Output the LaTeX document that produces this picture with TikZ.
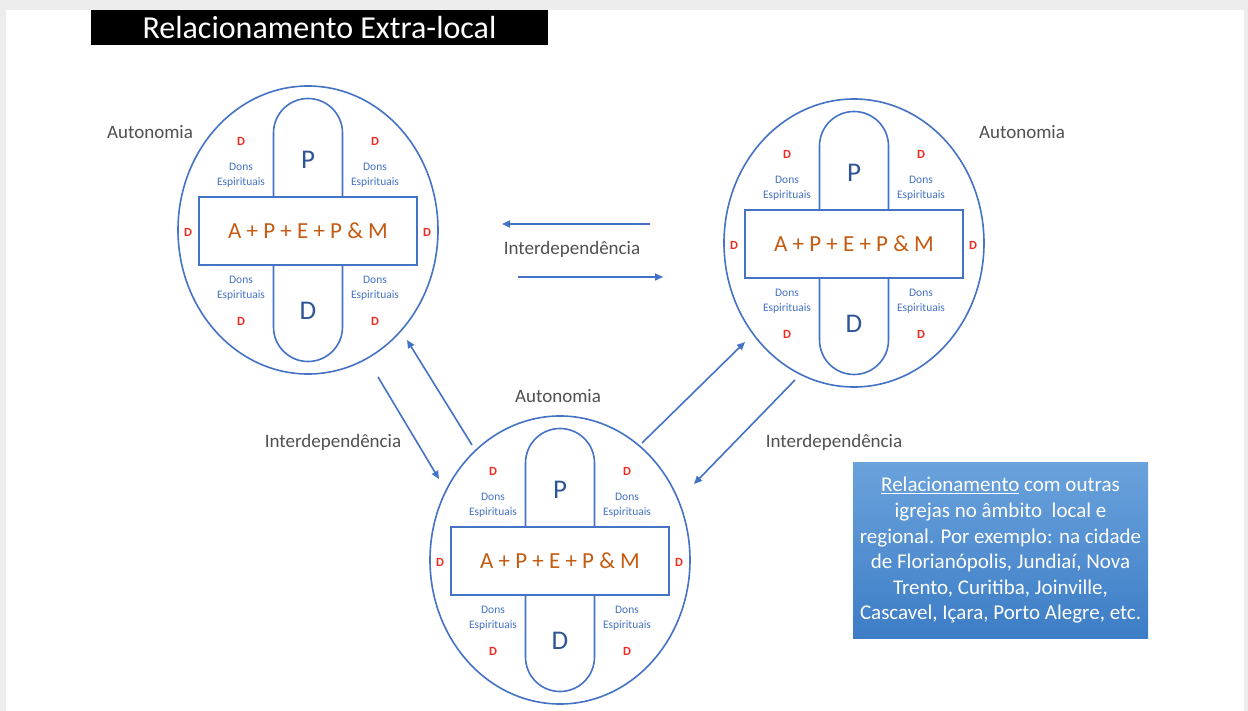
\documentclass[tikz,border=0pt]{standalone}
\usepackage{fontspec}
\setmainfont{Carlito}
\usetikzlibrary{shapes.geometric,arrows.meta}
\definecolor{lineblue}{HTML}{4472C4}
\definecolor{orangeT}{HTML}{C55A11}
\definecolor{darkblueT}{HTML}{2F5597}
\definecolor{redT}{HTML}{F02A1E}
\definecolor{grayT}{HTML}{505050}
\definecolor{frameGray}{HTML}{EDEDED}
\definecolor{boxTop}{HTML}{6AA2DC}
\definecolor{boxBot}{HTML}{3D7DC6}
\tikzset{
  ell/.style={draw=lineblue, line width=1.6bp, ellipse, minimum width=260bp, minimum height=288bp, inner sep=0pt},
  pill/.style={draw=lineblue, line width=1.6bp, rectangle, rounded corners=34.5bp, minimum width=69bp, minimum height=263bp, inner sep=0pt},
  bar/.style={draw=lineblue, fill=white, line width=1.6bp, minimum width=218bp, minimum height=68bp, inner sep=0pt, text=orangeT, font=\fontsize{23bp}{27bp}\selectfont},
  big/.style={text=darkblueT, font=\fontsize{27bp}{30bp}\selectfont, inner sep=0pt},
  redd/.style={text=redT, font=\fontsize{12.5bp}{15bp}\selectfont\bfseries, inner sep=0pt},
  dons/.style={text=lineblue, font=\fontsize{11.5bp}{14.5bp}\selectfont, align=center, inner sep=0pt},
  lbl/.style={text=grayT, font=\fontsize{19bp}{22bp}\selectfont, inner sep=0pt},
  arr/.style={draw=lineblue, line width=1.6bp, -{Triangle[length=8bp,width=7bp]}},
  church/.pic={
    \node[ell] (-ell) at (0,0) {};
    \node[pill] (-pill) at (0,0) {};
    \node[bar] (-bar) at (0,1) {A + P + E + P \& M};
    \node[big] (-p) at (0,-70) {P};
    \node[big] (-d) at (0,81) {D};
    \node[redd] (-d1) at (-67,-89) {D};
    \node[redd] (-d2) at (67,-89) {D};
    \node[redd] (-d3) at (-120,2) {D};
    \node[redd] (-d4) at (119,2) {D};
    \node[redd] (-d5) at (-67,91) {D};
    \node[redd] (-d6) at (67,91) {D};
    \node[dons] (-g1) at (-67,-55) {Dons\\Espirituais};
    \node[dons] (-g2) at (67,-55) {Dons\\Espirituais};
    \node[dons] (-g3) at (-67,58) {Dons\\Espirituais};
    \node[dons] (-g4) at (67,58) {Dons\\Espirituais};
  }
}
\begin{document}
\begin{tikzpicture}[x=1bp,y=-1bp]
\useasboundingbox (0,0) rectangle (1248,711);
\fill[frameGray] (0,0) rectangle (1248,711);
\fill[white] (6,10) rectangle (1244,711);
% title
\node[fill=black, minimum width=457bp, minimum height=35bp, inner sep=0pt, text=white, font=\fontsize{32bp}{36bp}\selectfont] (title) at (319.5,27.5) {Relacionamento Extra-local};
% churches
\pic (c1) at (308,230) {church};
\pic (c2) at (854,243) {church};
\pic (c3) at (560,560) {church};
% labels
\node[lbl] (au1) at (150,132) {Autonomia};
\node[lbl] (au2) at (1022,132) {Autonomia};
\node[lbl] (au3) at (558,396) {Autonomia};
\node[lbl] (in1) at (572,249) {Interdependência};
\node[lbl] (in2) at (333,442) {Interdependência};
\node[lbl] (in3) at (834,442) {Interdependência};
% arrow end points
\coordinate (a1s) at (650,224); \coordinate (a1e) at (502,224);
\coordinate (a2s) at (518,277); \coordinate (a2e) at (663,277);
\coordinate (a3s) at (378,377); \coordinate (a3e) at (439,479);
\coordinate (a4s) at (472,445); \coordinate (a4e) at (407,340);
\coordinate (a5s) at (642,443); \coordinate (a5e) at (745,342);
\coordinate (a6s) at (795,380); \coordinate (a6e) at (694,484);
\draw[arr] (a1s) -- (a1e);
\draw[arr] (a2s) -- (a2e);
\draw[arr] (a3s) -- (a3e);
\draw[arr] (a4s) -- (a4e);
\draw[arr] (a5s) -- (a5e);
\draw[arr] (a6s) -- (a6e);
% info box
\node[rectangle, top color=boxTop, bottom color=boxBot, minimum width=295bp, minimum height=176bp, inner sep=0pt, text=white, align=center, font=\fontsize{21bp}{25.6bp}\selectfont] (info) at (1000.5,550.5)
{\underline{Relacionamento} com outras\\igrejas no âmbito\ \ local e\\regional. Por exemplo: na cidade\\de Florianópolis, Jundiaí, Nova\\Trento, Curitiba, Joinville,\\Cascavel, Içara, Porto Alegre, etc.};
\end{tikzpicture}
\end{document}
